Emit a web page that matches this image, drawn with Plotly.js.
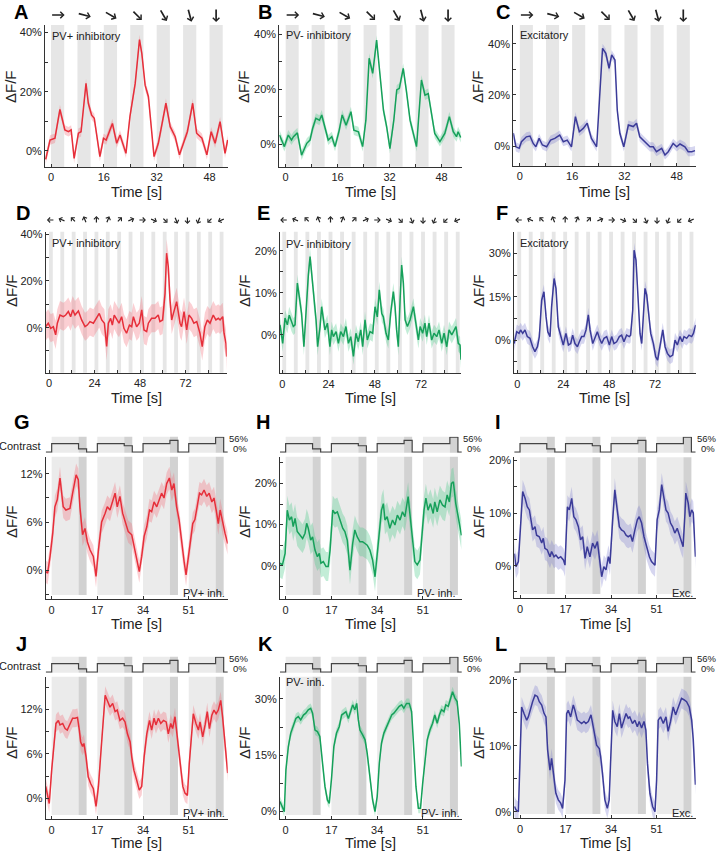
<!DOCTYPE html>
<html><head><meta charset="utf-8">
<script src="https://cdn.plot.ly/plotly-3.0.1.min.js"></script>
<style>html,body{margin:0;padding:0;background:#fff}#chart{width:720px;height:853px}</style>
</head><body><div id="chart"></div>
<script>
// ---------------- DATA ----------------
// Row 1 (A-C): time [s], dF/F [%]
const tA = [-1.6,-0.3,1.2,2.7,4.2,5.3,6.1,7.0,8.3,9.1,10.6,11.3,12.3,13.1,14.8,15.9,16.7,18.6,19.9,20.9,22.7,23.9,25.5,26.8,27.5,28.5,29.5,30.5,31.2,32.5,33.5,34.8,36.1,37.6,38.9,40.6,41.3,42.9,44.1,45.7,47.2,48.5,49.7,51.2,52.7,53.5];
const vA = [-2.8,3.7,4.3,14.0,7.1,6.5,7.1,-2.5,6.0,6.5,22.8,16.1,12.1,11.0,-1.9,4.3,3.7,9.3,2.6,5.4,-0.8,11.6,22.8,37.6,32.9,22.2,18.3,6.0,-1.9,2.6,8.2,16.1,8.2,4.8,-1.3,4.8,6.5,16.1,6.0,4.3,-1.3,6.5,2.6,9.9,-0.8,3.7];
const errA = 1.6;
const tB = [-1.9,-1.2,-0.4,0.8,1.8,2.4,3.6,4.9,6.5,7.5,8.3,9.3,10.4,11.1,12.1,13.1,14.2,15.2,16.5,17.4,18.6,20.1,21.0,22.4,23.7,24.7,25.7,26.8,28.0,29.0,30.1,31.1,32.1,33.3,34.2,35.0,36.2,37.2,38.3,39.3,40.3,41.8,42.9,43.9,44.6,45.9,47.5,49.0,50.4,51.6,52.6,53.1,53.9];
const vB = [3.4,1.6,-0.8,3.4,1.6,2.8,4.2,-3.9,0.4,1.6,5.8,9.5,8.8,10.7,5.8,1.6,2.8,-0.8,5.2,10.7,7.0,11.9,5.2,4.6,-0.8,8.8,31.3,25.8,37.9,27.0,12.5,6.4,-1.5,8.8,19.8,20.4,27.6,19.2,8.8,4.0,-0.8,23.4,17.9,18.5,13.7,4.0,1.0,4.0,10.1,4.6,2.8,4.6,2.5];
const errB = 1.8;
const tC = [-2.0,-1.2,-0.2,0.5,2.0,3.1,4.1,4.9,5.9,6.9,8.2,9.4,10.7,12.2,13.3,14.5,15.8,17.0,18.2,19.4,20.6,21.9,23.5,24.3,25.3,26.3,27.3,28.1,29.1,29.8,30.6,31.8,33.2,34.7,35.7,36.7,38.3,39.8,40.8,41.8,43.4,44.4,45.4,46.9,48.0,49.0,50.5,51.5,52.6,53.6];
const vC = [5.0,-0.3,-0.9,1.7,3.6,3.9,1.0,-0.3,3.0,0.4,-0.3,2.3,3.0,4.3,1.7,2.3,-0.3,11.5,5.6,6.9,8.9,3.0,-0.3,18.0,38.2,36.2,30.4,35.6,33.6,14.1,5.0,-0.3,8.2,7.6,8.9,3.6,1.7,-0.3,-0.3,-2.2,-0.9,-3.5,-2.2,1.0,-0.3,0.8,-0.3,-2.2,-2.2,-1.8];
const errC = 1.8;
// Row 2 (D-F)
const tD = [-1.8,-0.4,0.9,2.3,3.5,4.4,5.8,7.6,8.8,10.2,11.4,12.5,13.7,15.5,17.2,19.0,20.2,21.6,23.4,25.1,26.5,27.8,29.2,30.4,31.3,32.5,33.4,34.4,35.7,36.9,38.3,39.5,40.9,42.4,43.6,44.5,46.2,47.6,48.9,50.1,51.5,52.4,54.1,55.9,57.6,58.5,59.9,61.2,62.0,62.9,63.8,64.7,65.6,67.3,69.1,69.9,71.2,72.6,73.8,75.2,76.4,77.9,79.6,80.8,82.2,83.5,84.9,86.6,88.0,89.3,90.2,91.6,92.3,93.3,93.7];
const vD = [0.4,1.9,-0.3,0.4,-3.1,1.9,5.4,4.7,5.4,6.9,4.7,7.6,5.4,7.1,3.3,0.4,1.1,2.6,1.9,4.0,6.1,3.3,1.9,-8.1,1.9,4.0,1.1,5.4,3.3,1.9,4.7,-0.3,-2.4,1.1,0.4,4.7,0.4,1.9,7.6,-1.0,-1.7,1.9,4.0,4.0,5.4,2.6,3.3,14.7,31.9,26.1,11.9,3.3,6.1,11.1,1.9,0.4,6.9,-1.0,5.4,4.0,1.9,2.6,-2.4,-8.1,0.4,3.3,1.9,5.4,3.3,4.0,3.3,4.7,-2.4,-6.7,-12.4];
const errD = 6;
const tE = [-1.2,0.2,1.4,2.6,3.6,4.8,5.7,6.6,7.8,8.8,10.0,11.2,12.3,13.5,14.4,15.6,16.4,17.5,18.3,19.6,20.4,21.3,22.1,23.4,24.7,25.6,26.5,27.9,29.1,30.3,31.7,33.0,34.3,35.5,36.9,38.2,39.4,40.7,41.7,42.9,44.1,45.5,46.9,48.1,49.3,50.3,51.6,52.4,53.8,55.0,56.2,57.6,58.5,59.3,60.2,61.1,61.9,62.8,63.7,64.9,66.3,68.0,69.2,70.6,71.5,72.8,74.0,74.9,76.1,77.5,78.7,80.1,81.3,82.7,83.9,85.3,86.5,87.9,88.8,90.1,91.3,92.2,92.7];
const vE = [2.4,-2.0,4.0,2.4,4.7,2.8,2.0,2.4,12.3,9.1,5.1,-2.8,6.7,14.2,18.6,13.0,7.9,3.6,-2.8,2.0,6.7,4.3,1.2,2.8,-2.8,1.2,-0.4,0.8,-2.0,0.8,-0.4,2.0,-2.0,-0.4,-5.1,0.4,-1.6,1.2,-2.8,3.6,-1.2,0.8,0.4,6.7,4.3,10.7,5.1,4.3,0.4,-1.2,5.1,10.3,6.7,1.2,-2.8,8.3,16.6,12.3,3.6,2.0,3.6,6.7,2.8,-1.2,2.0,0.4,2.8,-0.4,2.8,-1.2,0.4,-0.4,1.2,-2.0,0.4,-2.8,1.2,0,0.8,2.0,-2.0,-2.4,-5.9];
const errE = 2;
const tF = [-1.7,-0.3,0.9,1.7,2.8,4.0,5.2,6.6,8.0,9.2,10.5,11.5,12.7,13.9,15.0,15.9,17.1,17.9,19.2,20.2,21.4,22.6,24.0,25.4,26.7,27.9,28.9,30.1,31.4,32.4,33.6,34.8,35.9,37.1,38.0,39.4,40.6,41.8,42.9,44.1,45.3,46.7,48.1,49.3,50.5,51.9,53.3,54.5,55.7,57.1,58.5,59.2,60.3,61.0,62.0,63.2,64.1,65.0,65.9,66.7,67.6,68.5,69.7,71.1,72.3,73.3,74.6,76.0,77.2,78.4,79.8,81.2,82.4,83.6,85.0,86.2,87.1,88.5,89.7,91.1,92.0,93.2];
const vF = [-1.2,2.9,2.3,3.5,2.3,3.5,1.2,0.6,-2.3,-4.0,-2.3,1.2,13.8,16.7,8.1,2.9,1.2,11.5,21.3,17.9,4.6,1.2,-1.7,2.3,-1.7,-1.2,1.7,-1.2,-2.3,-0.6,1.2,1.2,3.5,8.7,3.5,-1.2,1.2,2.9,0.6,-1.2,0.6,1.2,-1.7,1.2,-1.2,-0.6,1.2,1.7,-0.6,1.7,1.2,1.7,10.4,31.1,27.7,13.8,2.3,-1.2,9.2,17.9,15.6,8.7,2.3,-1.2,-5.8,-6.9,-2.3,3.5,-2.3,-4.6,-5.8,-5.2,0,-1.7,1.2,-0.6,1.2,0.6,1.7,1.2,2.3,5.2];
const errF = 2.5;
// Rows 3-4 (G-L)
const tG = [-2.2,-1.5,-0.6,0.4,1.2,2.1,3.1,4.3,5.3,6.8,7.8,9.1,9.9,10.5,11.5,12.4,13.3,14.3,15.5,16.5,17.4,18.6,19.9,20.7,21.7,22.7,23.6,24.4,25.4,26.4,27.7,28.5,29.8,31.0,31.9,32.6,33.5,34.4,35.4,36.4,37.2,38.1,39.1,40.1,40.9,41.8,42.8,43.8,44.7,45.5,46.5,47.4,48.4,49.3,50.0,50.9,51.7,52.5,53.3,54.2,55.0,55.8,56.7,57.7,58.6,59.6,60.4,61.2,62.0,62.7,63.6,64.5,65.5];
const vG = [-0.2,-0.4,1.7,4.6,7.9,8.8,11.5,7.9,7.5,7.7,9.6,11.9,11.3,7.9,4.4,5.2,3.5,2.5,1.7,-0.8,2.5,6.0,7.1,7.9,7.5,8.8,9.6,7.9,9.2,7.1,5.6,4.8,4.4,2.5,1.0,-0.2,1.7,4.2,5.4,7.5,7.3,8.5,7.9,8.8,9.6,9.0,10.8,11.5,10.0,10.8,7.9,6.3,3.3,1.0,-0.6,1.7,3.8,5.8,6.3,8.3,9.6,9.4,10.0,9.2,9.6,8.5,9.0,7.5,5.8,7.5,5.8,4.6,3.3];
const errG = 1.4;
const tH = [-2.1,-1.2,-0.2,0.6,1.4,2.2,2.8,3.5,4.3,5.3,6.3,7.2,7.8,8.4,9.3,10.0,10.9,11.8,12.5,13.1,14.0,15.0,15.8,16.5,17.5,18.3,19.2,20.2,21.2,22.0,22.9,23.9,24.9,25.7,26.6,27.6,28.6,29.5,30.3,31.3,32.3,33.2,34.0,34.8,35.6,36.3,36.9,37.7,38.7,39.7,40.6,41.5,42.5,43.4,44.3,45.5,46.2,47.2,48.0,48.9,49.9,50.9,51.4,52.1,52.9,53.8,54.8,55.4,56.3,57.3,58.3,59.2,60.0,60.8,61.6,62.3,63.2,64.1,65.3];
const vH = [0.6,0.2,3.0,13.5,11.1,11.9,9.5,11.5,8.3,7.4,6.6,7.9,10.3,9.1,6.2,7.0,3.8,2.2,3.0,0.6,1.0,-0.2,-0.2,3.8,13.5,12.7,13.1,11.1,9.1,8.3,6.2,-1.1,5.4,8.7,7.0,5.8,5.8,5.4,5.0,3.8,1.4,-2.7,3.0,8.7,13.5,15.1,11.1,11.9,9.1,11.1,9.9,12.3,11.1,13.1,11.9,16.8,12.7,5.4,1.0,0.2,1.4,9.5,13.5,16.4,13.5,15.1,12.7,15.5,13.1,16.0,14.7,14.3,17.2,15.5,20.0,20.4,15.1,11.9,7.4];
const errH = 3.5;
const tI = [-2.1,-1.5,-0.6,0.2,1.0,1.9,2.7,3.5,4.0,4.7,5.6,6.2,7.2,8.1,8.7,9.3,10.2,11.2,11.8,12.7,13.4,14.3,15.2,16.2,16.8,17.7,18.4,19.3,20.1,20.9,21.8,22.6,23.4,24.3,25.1,26.1,27.1,28.0,28.9,29.6,30.5,31.3,32.1,33.0,33.6,34.6,35.4,36.3,37.1,37.9,38.8,39.6,40.4,41.3,42.0,42.9,43.8,44.5,45.4,46.3,47.3,48.3,49.1,49.8,50.4,51.2,52.0,52.9,53.7,54.5,55.3,56.2,57.0,57.8,58.7,59.5,60.3,60.9,61.6,61.9,62.8,63.4,64.1,64.7,65.5];
const vI = [2.3,-0.2,0.8,8.7,14.1,12.8,11.2,10.6,8.7,6.8,7.4,5.8,5.5,4.3,5.2,3.3,3.0,1.7,2.7,1.7,2.0,1.4,1.7,1.1,0.1,11.2,10.6,12.8,9.3,8.7,7.4,4.9,5.5,1.4,3.6,1.7,4.3,3.3,4.6,1.7,-2.1,-0.2,-0.8,1.7,0.4,8.7,14.4,10.6,7.4,6.8,6.5,5.8,5.5,5.8,4.6,6.8,8.7,9.3,8.1,5.5,3.3,1.7,0.8,0.4,0.1,8.7,10.6,15.4,13.1,10.6,10.0,8.1,7.4,6.2,7.1,5.8,4.3,3.6,10.0,13.8,11.9,9.3,10.6,10.0,1.7];
const errI = 2.2;
const tJ = [-2.2,-1.5,-0.9,0.0,0.9,1.6,2.5,3.1,4.1,5.0,5.8,6.8,7.8,8.7,9.6,10.3,10.8,11.5,12.0,12.8,13.6,14.5,15.5,16.5,17.4,18.2,19.0,19.9,20.7,21.7,22.7,23.6,24.4,25.4,26.4,27.3,28.2,29.2,29.8,30.6,31.6,32.6,33.5,34.4,35.4,36.4,37.2,38.1,38.8,39.7,40.6,41.6,42.6,43.4,44.3,45.0,45.9,46.8,47.8,48.8,49.6,50.5,51.2,52.1,52.7,53.7,54.6,55.2,56.2,57.1,57.9,58.7,59.6,60.4,61.2,62.0,62.9,63.6,64.5,65.5];
const vJ = [1.6,0.2,-0.7,3.8,7.8,10.1,10.5,9.9,10.1,9.4,9.2,10.1,10.8,10.8,10.9,9.2,7.6,7.0,7.4,5.6,2.9,2.0,1.3,-1.1,1.6,5.6,10.1,13.9,13.2,12.3,12.8,11.7,11.9,10.5,10.8,10.3,8.7,7.6,5.6,3.8,2.5,1.1,1.6,5.6,8.7,10.5,9.2,10.8,9.9,10.8,10.1,10.5,10.3,8.7,10.1,9.4,11.0,7.8,4.7,1.6,0.7,0.4,4.7,9.0,11.4,10.1,9.2,10.3,8.3,9.9,11.7,9.4,11.2,11.9,11.4,11.9,13.2,11.0,7.4,3.4];
const errJ = 1.2;
const tK = [-2.1,-1.2,-0.5,0.1,1.0,1.9,2.8,3.8,4.7,5.6,6.6,7.5,8.4,9.3,10.0,10.9,11.8,12.7,13.7,14.6,15.5,16.2,17.1,17.9,18.9,19.9,20.8,21.7,22.4,23.3,23.9,24.9,25.7,26.4,27.0,27.6,28.6,29.5,30.3,31.3,32.3,33.2,34.0,34.8,35.6,36.5,37.5,38.5,39.4,40.2,41.2,42.2,43.1,43.9,44.9,45.9,46.8,47.4,48.4,49.3,50.1,50.9,51.7,52.6,53.6,54.6,55.4,56.3,57.1,57.9,58.8,59.5,60.4,61.3,62.0,62.9,63.7,64.5,65.3];
const vK = [2.7,1.3,0,11.1,17.3,20.9,22.6,24.8,25.3,24.4,25.7,26.2,27.1,27.5,26.2,21.7,21.3,20.0,12.9,6.7,3.1,2.2,9.3,17.3,20.9,22.6,25.7,26.2,26.6,24.8,26.2,28.4,27.1,28.8,24.4,21.7,20.4,19.1,15.5,9.3,3.1,0,4.0,12.9,18.2,20.9,22.6,24.4,25.7,26.2,27.1,28.0,28.4,27.5,28.8,28.8,26.6,19.1,6.7,0.9,0.9,7.5,13.8,19.1,21.7,23.5,25.7,23.5,25.7,27.1,26.6,28.4,28.0,30.2,31.9,30.2,29.3,23.5,12.0];
const errK = 1.3;
const tL = [-2.1,-1.5,-0.6,0.0,0.6,1.5,2.5,3.1,3.7,4.7,5.6,6.5,7.2,8.1,9.0,9.7,10.3,11.2,11.8,12.4,13.4,14.3,15.2,15.9,16.8,17.4,18.0,18.9,19.9,20.5,21.4,22.1,23.0,23.9,24.6,25.5,26.5,27.1,28.0,28.6,29.6,30.1,30.8,31.7,32.6,33.3,33.8,34.6,35.4,36.3,37.1,37.9,38.8,39.6,40.4,41.0,42.0,42.9,43.8,44.5,45.4,46.3,47.0,47.6,48.5,49.5,50.4,51.0,51.6,52.5,53.5,54.5,55.3,56.2,57.2,58.1,58.7,59.7,60.3,61.2,62.2,63.2,64.1,64.7,65.5];
const vL = [0.8,0.3,0,7.3,15.9,14.9,13.9,14.4,15.4,16.7,17.7,17.5,16.7,16.2,14.9,14.4,9.4,6.3,8.1,5.8,2.8,1.8,1.3,0.5,4.8,14.9,15.4,14.4,16.2,15.4,13.9,13.7,13.4,13.7,13.4,13.7,14.7,13.4,11.4,10.1,9.6,8.4,5.8,1.8,0.5,1.8,7.3,15.4,13.7,12.9,14.9,12.7,13.9,14.9,14.2,14.4,13.4,13.9,12.9,13.7,12.7,13.7,12.4,7.3,2.8,0.8,0,4.8,13.9,14.4,13.4,14.4,12.2,13.7,15.9,14.7,15.4,16.5,17.2,17.0,16.7,15.9,13.9,10.9,4.1];
const errL = 1.5;

// Stimulus timing
const stimOn1 = [0,8,16,24,32,40,48];           const stimDur1 = 4;
const dirs1 = [0,15,30,45,60,75,90];            // arrow directions (deg, clockwise from right)
const stimOn2 = [0,6,12,18,24,30,36,42,48,54,60,66,72,78,84,90]; const stimDur2 = 2;
const dirs2 = [180,202.5,225,247.5,270,292.5,315,337.5,0,22.5,45,67.5,90,112.5,135,157.5];
const cycleOn = [0,17,34,51]; const lightDur = 10; const darkDur = 3;
const contrastT = [-2.2,0,10,13,17,27,30,34,44,47,51,61,64,65.6];
const contrastV = [0,32,12,0,32,24,0,32,44,0,32,56,0,0];

// ---------------- LAYOUT / STYLE ----------------
const W = 720, H = 853;
const FONT = 'Liberation Sans, Arial, Helvetica, sans-serif';
const lineCol = ['#e62f3a', '#16a05a', '#3b3b98'];
const bandCol = ['rgba(242,110,120,0.33)', 'rgba(70,200,135,0.33)', 'rgba(120,120,205,0.30)'];
const px = x => x / W, py = y => 1 - y / H;

const cfg = [
 {tag:'A', t:tA, v:vA, e:errA, box:[45,228,25,167], xr:[-1.82,53.6], yr:[-5.4,42.5], ts:10, ls:20, row:0, col:0},
 {tag:'B', t:tB, v:vB, e:errB, box:[279.3,461.7,25,166.7], xr:[-1.96,54.2], yr:[-8.1,43.4], ts:10, ls:20, row:0, col:1},
 {tag:'C', t:tC, v:vC, e:errC, box:[513.3,695.7,25,166], xr:[-2.0,53.8], yr:[-7.8,47.3], ts:10, ls:20, row:0, col:2},
 {tag:'D', t:tD, v:vD, e:errD, box:[45.7,226.7,231.7,372.7], xr:[-1.74,93.7], yr:[-19.3,41.1], ts:10, ls:20, row:1, col:0},
 {tag:'E', t:tE, v:vE, e:errE, box:[280,461,231.7,373.3], xr:[-1.2,92.7], yr:[-9.1,24.5], ts:5, ls:10, row:1, col:1},
 {tag:'F', t:tF, v:vF, e:errF, box:[514,695.7,231.7,373.3], xr:[-1.74,93.2], yr:[-11.5,37.5], ts:7.5, ls:15, row:1, col:2},
 {tag:'G', t:tG, v:vG, e:errG, box:[45.7,227.7,456.7,599.3], xr:[-2.22,65.5], yr:[-3.66,14.16], ts:3, ls:6, row:2, col:0},
 {tag:'H', t:tH, v:vH, e:errH, box:[280,461.7,456.7,599.3], xr:[-2.1,65.4], yr:[-8.17,26.5], ts:5, ls:10, row:2, col:1},
 {tag:'I', t:tI, v:vI, e:errI, box:[514.3,695.7,457.3,598.3], xr:[-2.13,65.6], yr:[-6.2,20.6], ts:5, ls:10, row:2, col:2},
 {tag:'J', t:tJ, v:vJ, e:errJ, box:[45.7,227.7,676.7,819.3], xr:[-2.22,65.5], yr:[-2.83,16.4], ts:3, ls:6, row:3, col:0},
 {tag:'K', t:tK, v:vK, e:errK, box:[280,461.7,676.7,819.3], xr:[-2.1,65.4], yr:[-2.04,35.9], ts:7.5, ls:15, row:3, col:1},
 {tag:'L', t:tL, v:vL, e:errL, box:[514.3,695.7,676.7,818.3], xr:[-2.13,65.6], yr:[-1.0,20.5], ts:5, ls:10, row:3, col:2}
];
const rowXT = [{s:8,l:16},{s:12,l:24},{s:17,l:17},{s:17,l:17}];
const letterPos = [[21,12],[265,12],[503,12],[23,213],[263,213],[502,213],[22,422],[263,422],[498,422],[21,644],[265,644],[501,644]];
const ytitleX = [11,244,478], ytitleY = [87,291,522,743], xtitleY = [192,398,624,843];
const stripY = [[436.7,452.7],[656.7,672.7]];
const arrowY = [15, 220], arrowLen = [14, 8], arrowW = [1.7, 1.2], arrowSz = [0.75, 0.8];
const inLabels = [
 {p:0, text:'PV+ inhibitory', x:50, y:36, a:'left'}, {p:1, text:'PV- inhibitory', x:284, y:35, a:'left'},
 {p:2, text:'Excitatory', x:518, y:35, a:'left'}, {p:3, text:'PV+ inhibitory', x:50, y:243, a:'left'},
 {p:4, text:'PV- inhibitory', x:284, y:244, a:'left'}, {p:5, text:'Excitatory', x:518, y:243, a:'left'},
 {p:6, text:'PV+ inh.', x:227, y:592.5, a:'right'}, {p:7, text:'PV- inh.', x:458, y:592.5, a:'right'},
 {p:8, text:'Exc.', x:695, y:592.5, a:'right'}, {p:9, text:'PV+ inh.', x:227, y:812.5, a:'right'},
 {p:10, text:'PV- inh.', x:284, y:682, a:'left'}, {p:10, text:'PV- inh.', x:462, y:812.5, a:'right'},
 {p:11, text:'Exc.', x:695, y:812.5, a:'right'}
];

function ticksFor(r, step, lstep, fmt){
  const vals=[], txt=[];
  const start = Math.ceil(r[0]/step - 1e-9)*step;
  for (let v=start; v<=r[1]+1e-9; v+=step){
    const vv = Math.round(v*1000)/1000;
    vals.push(vv);
    const isL = Math.abs(vv/lstep - Math.round(vv/lstep)) < 1e-6 && vv >= 0;
    txt.push(isL ? fmt(vv) : '');
  }
  return {vals, txt};
}

const traces=[], shapes=[], ann=[];
const layout = {width:W, height:H, margin:{l:0,r:0,t:0,b:0}, showlegend:false,
  paper_bgcolor:'#fff', plot_bgcolor:'rgba(0,0,0,0)', font:{family:FONT, color:'#222'}};

function axName(n){ return n===1 ? '' : String(n); }
function annP(text, x, y, o){ return Object.assign({xref:'paper', yref:'paper', x:px(x), y:py(y), text, showarrow:false,
  xanchor:'center', yanchor:'middle', font:{family:FONT, size:11, color:'#222'}}, o||{}); }

cfg.forEach((p,i)=>{
  const n=i+1, s=axName(n), xa='x'+s, ya='y'+s;
  const up = p.v.map(v=>v+p.e), lo = p.v.map(v=>v-p.e);
  traces.push({x:p.t.concat(p.t.slice().reverse()), y:up.concat(lo.slice().reverse()), xaxis:xa, yaxis:ya,
    mode:'lines', fill:'toself', fillcolor:bandCol[p.col], line:{width:0, color:'rgba(0,0,0,0)'}, hoverinfo:'skip'});
  traces.push({x:p.t, y:p.v, xaxis:xa, yaxis:ya, mode:'lines', line:{color:lineCol[p.col], width:1.5}});
  const xt = ticksFor(p.xr, rowXT[p.row].s, rowXT[p.row].l, v=>String(v));
  const yt = ticksFor(p.yr, p.ts, p.ls, v=>v+'%');
  const axCommon = {showline:true, linecolor:'#333', linewidth:1, ticks:'inside', ticklen:3, tickcolor:'#333',
    showgrid:false, zeroline:false, tickmode:'array', tickfont:{family:FONT, size:11, color:'#222'}, fixedrange:true};
  layout['xaxis'+s] = Object.assign({}, axCommon, {domain:[px(p.box[0]), px(p.box[1])], range:p.xr, anchor:ya,
    tickvals:xt.vals, ticktext:xt.txt});
  layout['yaxis'+s] = Object.assign({}, axCommon, {domain:[py(p.box[3]), py(p.box[2])], range:p.yr, anchor:xa,
    tickvals:yt.vals, ticktext:yt.txt});
  if (p.row < 2){
    const ons = p.row===0 ? stimOn1 : stimOn2, dur = p.row===0 ? stimDur1 : stimDur2;
    const dirs = p.row===0 ? dirs1 : dirs2;
    const L = arrowLen[p.row];
    ons.forEach((o,k)=>{
      shapes.push({type:'rect', xref:xa, yref:ya+' domain', x0:o, x1:o+dur, y0:0, y1:1, fillcolor:'#e6e6e6', line:{width:0}, layer:'below'});
      const th = dirs[k]*Math.PI/180, c = Math.cos(th), sn = Math.sin(th);
      ann.push({xref:xa, yref:'paper', x:o+dur/2, y:py(arrowY[p.row]), text:'', showarrow:true,
        arrowhead:4, arrowsize:arrowSz[p.row], arrowwidth:arrowW[p.row], arrowcolor:'#222',
        axref:'pixel', ayref:'pixel', ax:-L*c, ay:-L*sn, xshift:L/2*c, yshift:-L/2*sn, standoff:0, startstandoff:0});
    });
  } else {
    const si = 13 + (i-6), ss = axName(si), sxa='x'+ss, sya='y'+ss;
    const sy = stripY[p.row-2];
    layout['xaxis'+ss] = {domain:[px(p.box[0]), px(p.box[1])], range:p.xr, anchor:sya, visible:false, fixedrange:true};
    layout['yaxis'+ss] = {domain:[py(sy[1]), py(sy[0])], range:[-2,58], anchor:sxa, visible:false, fixedrange:true};
    traces.push({x:contrastT, y:contrastV, xaxis:sxa, yaxis:sya, mode:'lines', line:{shape:'hv', color:'#444', width:1.2}});
    cycleOn.forEach(o=>{
      shapes.push({type:'rect', xref:xa, yref:ya+' domain', x0:o, x1:o+lightDur, y0:0.03, y1:1, fillcolor:'#ebebeb', line:{width:0}, layer:'below'});
      shapes.push({type:'rect', xref:xa, yref:ya+' domain', x0:o+lightDur, x1:o+lightDur+darkDur, y0:0.03, y1:1, fillcolor:'#d2d2d2', line:{width:0}, layer:'below'});
      shapes.push({type:'rect', xref:sxa, yref:sya+' domain', x0:o, x1:o+lightDur, y0:0, y1:1, fillcolor:'#ebebeb', line:{width:0}, layer:'below'});
      shapes.push({type:'rect', xref:sxa, yref:sya+' domain', x0:o+lightDur, x1:o+lightDur+darkDur, y0:0, y1:1, fillcolor:'#d2d2d2', line:{width:0}, layer:'below'});
    });
    ann.push(annP('56%', p.box[1]-1, sy[0]+1.5, {xanchor:'left', font:{family:FONT, size:9.5, color:'#222'}}));
    ann.push(annP('0%', p.box[1]+3, sy[0]+12, {xanchor:'left', font:{family:FONT, size:9.5, color:'#222'}}));
    if (p.col===0) ann.push(annP('Contrast', 43, sy[0]+9.5, {xanchor:'right', font:{family:FONT, size:11, color:'#222'}}));
  }
  ann.push(annP(p.tag, letterPos[i][0], letterPos[i][1], {font:{family:FONT, size:20, color:'#000', weight:'bold'}}));
  ann.push(annP('ΔF/F', ytitleX[p.col], ytitleY[p.row], {textangle:-90, font:{family:FONT, size:15, color:'#222'}}));
  ann.push(annP('Time [s]', (p.box[0]+p.box[1])/2, xtitleY[p.row], {font:{family:FONT, size:14.5, color:'#222'}}));
});
inLabels.forEach(l=>ann.push(annP(l.text, l.x, l.y, {xanchor:l.a, font:{family:FONT, size:11, color:'#222'}})));

layout.shapes = shapes; layout.annotations = ann;
Plotly.newPlot('chart', traces, layout, {staticPlot:true, displayModeBar:false});
</script></body></html>
